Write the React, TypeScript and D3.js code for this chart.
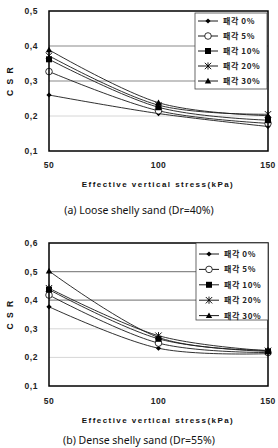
import React from "react";
import * as d3 from "d3";

// Effective vertical stress (kPa)
const stresses = [50, 100, 150];

// Legend labels: shell content
const seriesNames = ["패각 0%", "패각 5%", "패각 10%", "패각 20%", "패각 30%"];
const markerTypes = ["diamond", "circle", "square", "asterisk", "triangle"];

// CSR, loose shelly sand (Dr=40%)
const looseShell0 = [0.26, 0.207, 0.17];
const looseShell5 = [0.327, 0.215, 0.179];
const looseShell10 = [0.362, 0.225, 0.188];
const looseShell20 = [0.372, 0.231, 0.205];
const looseShell30 = [0.389, 0.238, 0.201];

// CSR, dense shelly sand (Dr=55%)
const denseShell0 = [0.377, 0.232, 0.213];
const denseShell5 = [0.418, 0.25, 0.217];
const denseShell10 = [0.437, 0.265, 0.221];
const denseShell20 = [0.442, 0.276, 0.223];
const denseShell30 = [0.502, 0.27, 0.225];

const looseTicks = [0.1, 0.2, 0.3, 0.4, 0.5];
const denseTicks = [0.1, 0.2, 0.3, 0.4, 0.5, 0.6];

const looseCaption = "(a) Loose shelly sand (Dr=40%)";
const denseCaption = "(b) Dense shelly sand (Dr=55%)";
const xTitle = "Effective vertical stress(kPa)";
const yTitle = "C S R";

const tickFont = "'Liberation Sans', Arial, sans-serif";
const krFont = "'Noto Sans CJK KR', 'Liberation Sans', sans-serif";

function Marker({ type, x, y }: { type: string; x: number; y: number }) {
  switch (type) {
    case "diamond":
      return <path d={`M${x},${y - 2.6}L${x + 2.6},${y}L${x},${y + 2.6}L${x - 2.6},${y}Z`} fill="#000" />;
    case "circle":
      return <circle cx={x} cy={y} r={3.3} fill="#fff" stroke="#000" strokeWidth={0.8} />;
    case "square":
      return <rect x={x - 3} y={y - 3} width={6} height={6} fill="#000" />;
    case "asterisk":
      return (
        <g stroke="#000" strokeWidth={0.9}>
          <line x1={x - 3.2} y1={y - 3.2} x2={x + 3.2} y2={y + 3.2} />
          <line x1={x - 3.2} y1={y + 3.2} x2={x + 3.2} y2={y - 3.2} />
          <line x1={x} y1={y - 3.6} x2={x} y2={y + 3.6} />
        </g>
      );
    case "triangle":
      return <path d={`M${x},${y - 3.2}L${x + 3.2},${y + 2.4}L${x - 3.2},${y + 2.4}Z`} fill="#000" />;
    default:
      return null;
  }
}

type PanelProps = {
  top: number;
  bottom: number;
  yMax: number;
  ticks: number[];
  darkGrid: number[];
  series: number[][];
  legendTop: number;
  legendBottom: number;
  legendLeft: number;
  legendRight: number;
  rowGap: number;
  firstRow: number;
  tickLabelY: number;
  titleY: number;
  caption: string;
  captionY: number;
};

function Panel(p: PanelProps) {
  const left = 49;
  const right = 268;
  const x = d3.scaleLinear().domain([50, 150]).range([left, right]);
  const y = d3.scaleLinear().domain([0.1, p.yMax]).range([p.bottom, p.top]);
  const line = d3
    .line<number>()
    .x((_, i) => x(stresses[i]))
    .y((v) => y(v))
    .curve(d3.curveCardinal.tension(0));
  const fmt = (v: number) => d3.format(".1f")(v).replace(".", ",");

  return (
    <g>
      {/* gridlines */}
      {p.ticks
        .filter((t) => t > 0.1 + 1e-9 && t < p.yMax - 1e-9)
        .map((t) => (
          <line
            key={t}
            x1={left}
            x2={right}
            y1={y(t)}
            y2={y(t)}
            stroke={p.darkGrid.includes(t) ? "#8a8a8a" : "#d6d6d6"}
            strokeWidth={p.darkGrid.includes(t) ? 1.2 : 1}
          />
        ))}
      {/* series */}
      {p.series.map((s, si) => (
        <g key={si}>
          <path d={line(s) || ""} fill="none" stroke="#1a1a1a" strokeWidth={0.9} />
          {s.map((v, i) => (
            <Marker key={i} type={markerTypes[si]} x={x(stresses[i])} y={y(v)} />
          ))}
        </g>
      ))}
      {/* plot frame */}
      <rect x={left} y={p.top} width={right - left} height={p.bottom - p.top} fill="none" stroke="#000" strokeWidth={1.5} />
      {/* y tick labels */}
      {p.ticks.map((t) => (
        <text
          key={t}
          x={38}
          y={y(t) + 3}
          textAnchor="end"
          fontFamily={tickFont}
          fontWeight="bold"
          fontSize={8.5}
          letterSpacing={0.6}
          fill="#222"
        >
          {fmt(t)}
        </text>
      ))}
      {/* x tick labels */}
      {stresses.map((s) => (
        <text
          key={s}
          x={x(s)}
          y={p.tickLabelY}
          textAnchor="middle"
          fontFamily={tickFont}
          fontWeight="bold"
          fontSize={8.5}
          letterSpacing={0.5}
          fill="#222"
        >
          {s}
        </text>
      ))}
      {/* axis titles */}
      <text
        x={158}
        y={p.titleY}
        textAnchor="middle"
        fontFamily={tickFont}
        fontWeight="bold"
        fontSize={8}
        letterSpacing={1.45}
        fill="#111"
      >
        {xTitle}
      </text>
      <text
        transform={`translate(13,${(p.top + p.bottom) / 2}) rotate(-90)`}
        textAnchor="middle"
        fontFamily={tickFont}
        fontWeight="bold"
        fontSize={8.5}
        letterSpacing={1.5}
        fill="#111"
      >
        {yTitle}
      </text>
      {/* legend */}
      <rect
        x={p.legendLeft}
        y={p.legendTop}
        width={p.legendRight - p.legendLeft}
        height={p.legendBottom - p.legendTop}
        fill="#fff"
        stroke="#444"
        strokeWidth={0.8}
      />
      {seriesNames.map((name, i) => {
        const ry = p.firstRow + i * p.rowGap;
        const lx = p.legendLeft + 3;
        return (
          <g key={name}>
            <line x1={lx} x2={lx + 20} y1={ry} y2={ry} stroke="#000" strokeWidth={0.9} />
            <Marker type={markerTypes[i]} x={lx + 10} y={ry} />
            <text
              x={lx + 25}
              y={ry + 3}
              fontFamily={krFont}
              fontWeight="bold"
              fontSize={8}
              letterSpacing={0.6}
              fill="#222"
            >
              {name}
            </text>
          </g>
        );
      })}
      {/* caption */}
      <text x={139} y={p.captionY} textAnchor="middle" fontFamily={"'Noto Sans', 'Open Sans', sans-serif"} fontSize={10.5} fill="#111">
        {p.caption}
      </text>
    </g>
  );
}

export default function App() {
  return (
    <svg
      width={278}
      height={448}
      style={{ position: "absolute", left: 0, top: 0, background: "#fff" }}
    >
      <rect width={278} height={448} fill="#fff" />
      <Panel
        top={11}
        bottom={151}
        yMax={0.5}
        ticks={looseTicks}
        darkGrid={[0.3, 0.4]}
        series={[looseShell0, looseShell5, looseShell10, looseShell20, looseShell30]}
        legendLeft={195}
        legendRight={267}
        legendTop={13}
        legendBottom={89}
        firstRow={21}
        rowGap={15}
        tickLabelY={168}
        titleY={187}
        caption={looseCaption}
        captionY={214}
      />
      <Panel
        top={243}
        bottom={386}
        yMax={0.6}
        ticks={denseTicks}
        darkGrid={[0.4, 0.5]}
        series={[denseShell0, denseShell5, denseShell10, denseShell20, denseShell30]}
        legendLeft={196}
        legendRight={268}
        legendTop={243}
        legendBottom={320}
        firstRow={254}
        rowGap={15.4}
        tickLabelY={404}
        titleY={423}
        caption={denseCaption}
        captionY={444}
      />
    </svg>
  );
}
